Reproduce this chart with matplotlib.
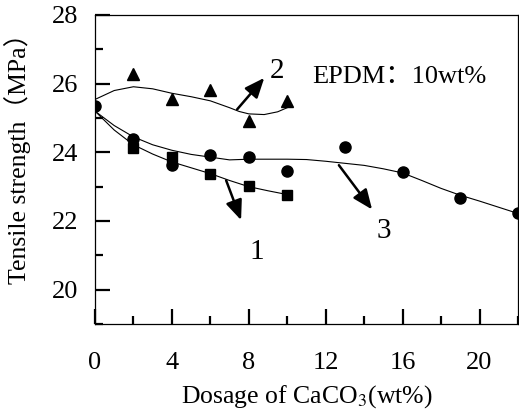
import matplotlib.pyplot as plt
from matplotlib.ticker import MultipleLocator

plt.rcParams['font.family'] = ['Liberation Serif', 'Noto Sans CJK SC']
plt.rcParams['mathtext.fontset'] = 'stix'

# measured points
x_sq = [2, 4, 6, 8, 10]
y_sq = [24.14, 23.87, 23.38, 23.01, 22.77]

x_tri = [2, 4, 6, 8, 10]
y_tri = [26.29, 25.54, 25.82, 24.91, 25.49]

x_cir = [0, 2, 4, 6, 8, 10, 13, 16, 19, 22]
y_cir = [25.35, 24.40, 23.64, 23.93, 23.86, 23.47, 24.15, 23.42, 22.67, 22.22]

# fitted curves
cx1 = [0, 1, 2, 3, 4, 5, 6, 7, 8, 9, 10]
cy1 = [25.20, 24.65, 24.22, 23.95, 23.72, 23.55, 23.38, 23.18, 23.00, 22.88, 22.77]

cx2 = [0, 1, 2, 3, 4, 5, 6, 7, 7.5, 8, 8.8, 9.5, 10]
cy2 = [25.54, 25.80, 25.91, 25.85, 25.72, 25.62, 25.50, 25.30, 25.19, 25.12, 25.10, 25.18, 25.30]

cx3 = [0, 1, 2, 3, 4, 5, 6, 7, 8, 9, 10, 11, 12, 13, 14, 15, 16, 17, 18, 19, 20, 21, 22]
cy3 = [25.20, 24.78, 24.45, 24.22, 24.06, 23.94, 23.86, 23.78, 23.80, 23.80, 23.80, 23.79, 23.74,
       23.68, 23.62, 23.52, 23.40, 23.18, 22.95, 22.75, 22.58, 22.40, 22.22]

fig = plt.figure(figsize=(5.19, 4.12), dpi=100)
ax = fig.add_axes([0.183, 0.2136, 0.815, 0.75])

ax.plot(cx1, cy1, color='black', lw=0.8)
ax.plot(cx2, cy2, color='black', lw=0.8)
ax.plot(cx3, cy3, color='black', lw=0.8)

ax.plot(x_sq, y_sq, 's', color='black', ms=6.5)
ax.plot(x_tri, y_tri, '^', color='black', ms=8)
ax.plot(x_cir, y_cir, 'o', color='black', ms=8)

# curve labels with arrows
arrow = dict(arrowstyle='-|>,head_length=0.6,head_width=0.25', color='black', lw=1.8, mutation_scale=20)
ax.annotate('', xy=(8.9, 26.23), xytext=(7.3, 25.19), arrowprops=arrow)
ax.annotate('', xy=(7.65, 21.95), xytext=(6.77, 23.26), arrowprops=arrow)
ax.annotate('', xy=(14.5, 22.27), xytext=(12.6, 23.69), arrowprops=arrow)
ax.text(9.45, 26.38, '2', fontsize=21, ha='center', va='center')
ax.text(8.4, 21.1, '1', fontsize=21, ha='center', va='center')
ax.text(15.0, 21.7, '3', fontsize=21, ha='center', va='center')
ax.text(11.3, 26.18, 'EPDM：10wt%', fontsize=19, ha='left', va='center')

ax.set_xlim(0, 22)
ax.set_ylim(19, 28)
ax.xaxis.set_major_locator(MultipleLocator(4))
ax.xaxis.set_minor_locator(MultipleLocator(2))
ax.yaxis.set_major_locator(MultipleLocator(2))
ax.yaxis.set_minor_locator(MultipleLocator(1))
ax.tick_params(which='both', direction='in', top=False, right=False, width=1.6, labelsize=19)
ax.tick_params(which='major', length=11, pad=20)
ax.tick_params(axis='y', which='major', pad=12)
ax.tick_params(which='minor', length=6)
for s in ax.spines.values():
    s.set_linewidth(0.9)

ax.set_xlabel('Dosage of CaCO$_3$(wt%)', fontsize=18.5, labelpad=7)
ax.set_ylabel('Tensile strength（MPa）', fontsize=18.5)
ax.yaxis.set_label_coords(-0.152, 0.555)

plt.savefig('out.png', dpi=100)
